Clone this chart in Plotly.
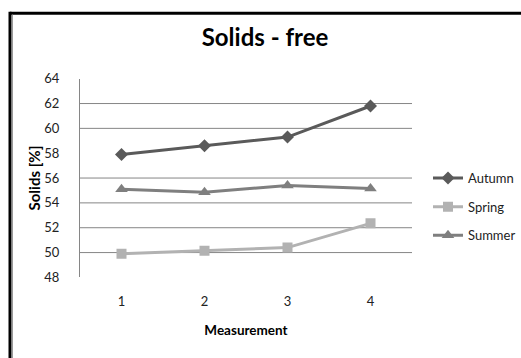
import plotly.graph_objects as go

measurements = [1, 2, 3, 4]
autumn = [57.9, 58.6, 59.3, 61.8]
spring = [49.9, 50.15, 50.4, 52.35]
summer = [55.1, 54.85, 55.4, 55.15]
y_ticks = [48, 50, 52, 54, 56, 58, 60, 62, 64]
grid_values = [50, 52, 54, 56, 60, 62]

W, H = 521, 358
FONT = "Lato"

fig = go.Figure()
series = [
    ("Autumn", autumn, "#5a5a5a", "diamond", 10, "legend"),
    ("Spring", spring, "#b2b2b2", "square", 10, "legend2"),
    ("Summer", summer, "#7f7f7f", "triangle-up", 11, "legend3"),
]
for name, vals, col, sym, ms, lg in series:
    fig.add_trace(go.Scatter(
        x=measurements, y=vals, name=name, mode="lines+markers",
        line=dict(color=col, width=3),
        marker=dict(symbol=sym, size=ms, color=col, line=dict(width=0)),
        legend=lg,
    ))

xd = [80 / W, 412 / W]
yd = [1 - 282 / H, 1 - 74 / H]

shapes = []
for g in grid_values:
    shapes.append(dict(type="line", xref="paper", yref="y", x0=xd[0], x1=xd[1],
                       y0=g, y1=g, line=dict(color="#868686", width=1), layer="below"))
# outer frame
shapes.append(dict(type="line", xref="paper", yref="paper", x0=10 / W, x1=1.2,
                   y0=1 - 5.5 / H, y1=1 - 5.5 / H, line=dict(color="#000000", width=3)))
shapes.append(dict(type="line", xref="paper", yref="paper", x0=10 / W, x1=10 / W,
                   y0=-0.2, y1=1 - 4 / H, line=dict(color="#000000", width=3)))
shapes.append(dict(type="line", xref="paper", yref="paper", x0=12.5 / W, x1=12.5 / W,
                   y0=-0.2, y1=1 - 7 / H, line=dict(color="#9a9a9a", width=1)))

def leg(y):
    return dict(x=428 / W, y=1 - y / H, xanchor="left", yanchor="middle",
                font=dict(family=FONT, size=13, color="#222222"),
                bgcolor="rgba(0,0,0,0)", itemwidth=30)

fig.update_layout(
    width=W, height=H,
    margin=dict(l=0, r=0, t=0, b=0),
    paper_bgcolor="white", plot_bgcolor="white",
    title=dict(text="<b>Solids - free</b>", x=265 / W, xanchor="center",
               y=1 - 38 / H, yanchor="middle",
               font=dict(family=FONT, size=24, color="#000000")),
    xaxis=dict(domain=xd, range=[0.5, 4.5], tickvals=measurements,
               showgrid=False, zeroline=False, showline=False,
               ticks="", ticklabelstandoff=15,
               tickfont=dict(family=FONT, size=13, color="#222222"),
               title=dict(text="<b>Measurement</b>", standoff=17,
                          font=dict(family=FONT, size=13.5, color="#000000"))),
    yaxis=dict(domain=yd, range=[48, 64], tickvals=y_ticks,
               showgrid=False, zeroline=False, showline=True,
               linecolor="#868686", linewidth=1,
               ticks="", ticklabelstandoff=17,
               tickfont=dict(family=FONT, size=13, color="#222222"),
               title=dict(text="<b>Solids [%]</b>", standoff=0,
                          font=dict(family=FONT, size=15, color="#000000"))),
    legend=leg(178),
    legend2=leg(208),
    legend3=leg(238),
    shapes=shapes,
    showlegend=True,
)

fig.write_html("out.html")
